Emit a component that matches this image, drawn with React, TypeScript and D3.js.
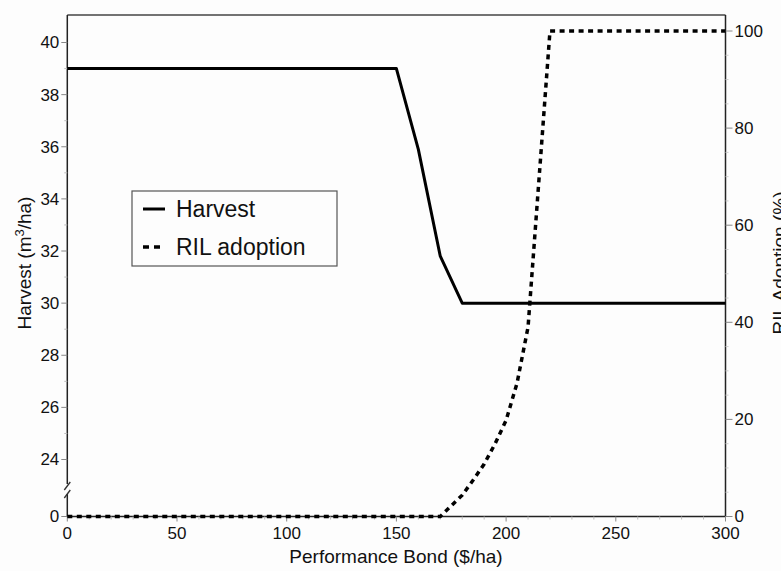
import React, { useEffect, useRef } from 'react';
import * as d3 from 'd3';

// bond levels ($/ha) used by the harvest series
const bond = [0, 10, 20, 30, 40, 50, 60, 70, 80, 90, 100, 110, 120, 130, 140, 150, 160, 170, 180, 190, 200, 210, 220, 230, 240, 250, 260, 270, 280, 290, 300];
const harvest = [39, 39, 39, 39, 39, 39, 39, 39, 39, 39, 39, 39, 39, 39, 39, 39, 35.9, 31.8, 30, 30, 30, 30, 30, 30, 30, 30, 30, 30, 30, 30, 30];

// RIL adoption is sampled more finely where it rises
const rilBond = [0, 10, 20, 30, 40, 50, 60, 70, 80, 90, 100, 110, 120, 130, 140, 150, 160, 170, 175, 180, 185, 190, 195, 200, 205, 210, 220, 230, 240, 250, 260, 270, 280, 290, 300];
const rilAdoption = [0, 0, 0, 0, 0, 0, 0, 0, 0, 0, 0, 0, 0, 0, 0, 0, 0, 0, 2.2, 4.4, 7.5, 10.8, 15, 19.8, 27.5, 39, 100, 100, 100, 100, 100, 100, 100, 100, 100];

const xTicks = [0, 50, 100, 150, 200, 250, 300];
const harvestTicks = [24, 26, 28, 30, 32, 34, 36, 38, 40];
const rilTicks = [0, 20, 40, 60, 80, 100];

const W = 781;
const H = 571;
const font = "'Liberation Sans', Arial, Helvetica, sans-serif";

const App = () => {
  const ref = useRef<SVGSVGElement>(null);

  useEffect(() => {
    const svg = d3.select(ref.current);
    svg.selectAll('*').remove();

    const left = 67.3, right = 725.5, top = 15, bottom = 516.5;

    const x = d3.scaleLinear().domain([0, 300]).range([left, right]);
    const yH = d3.scaleLinear().domain([24, 40]).range([459.5, 42.5]);
    const yR = d3.scaleLinear().domain([0, 100]).range([bottom, 31]);

    svg.append('rect').attr('width', W).attr('height', H).attr('fill', '#fdfdfd');

    // frame (top, right, bottom)
    svg.append('line').attr('x1', left).attr('x2', right).attr('y1', top).attr('y2', top)
      .attr('stroke', '#444').attr('stroke-width', 1.3);
    svg.append('line').attr('x1', right).attr('x2', right).attr('y1', top).attr('y2', bottom)
      .attr('stroke', '#222').attr('stroke-width', 1.5);
    svg.append('line').attr('x1', left).attr('x2', right).attr('y1', bottom).attr('y2', bottom)
      .attr('stroke', '#222').attr('stroke-width', 1.5);

    // left axis with break
    svg.append('line').attr('x1', left).attr('x2', left).attr('y1', top).attr('y2', 484)
      .attr('stroke', '#222').attr('stroke-width', 1.5);
    svg.append('line').attr('x1', left).attr('x2', left).attr('y1', 494).attr('y2', bottom)
      .attr('stroke', '#222').attr('stroke-width', 1.5);
    svg.append('line').attr('x1', left - 3).attr('x2', left + 3).attr('y1', 490).attr('y2', 482)
      .attr('stroke', '#333').attr('stroke-width', 1.3);
    svg.append('line').attr('x1', left - 3).attr('x2', left + 3).attr('y1', 498).attr('y2', 490)
      .attr('stroke', '#333').attr('stroke-width', 1.3);

    const tickColor = '#888';

    // left ticks
    const minorH = d3.range(25, 40, 2);
    svg.append('g').selectAll('line').data(minorH).enter().append('line')
      .attr('x1', left - 3).attr('x2', left).attr('y1', (d) => yH(d)).attr('y2', (d) => yH(d))
      .attr('stroke', '#bbb');
    svg.append('g').selectAll('line').data(harvestTicks).enter().append('line')
      .attr('x1', left - 6).attr('x2', left).attr('y1', (d) => yH(d)).attr('y2', (d) => yH(d))
      .attr('stroke', tickColor);
    svg.append('g').selectAll('text').data(harvestTicks).enter().append('text')
      .attr('x', left - 8).attr('y', (d) => yH(d)).attr('dy', '0.35em')
      .attr('text-anchor', 'end').attr('font-family', font).attr('font-size', 17).attr('fill', '#111')
      .text((d) => d);
    svg.append('line').attr('x1', left - 6).attr('x2', left).attr('y1', bottom).attr('y2', bottom)
      .attr('stroke', tickColor);
    svg.append('text').attr('x', left - 8).attr('y', bottom).attr('dy', '0.35em')
      .attr('text-anchor', 'end').attr('font-family', font).attr('font-size', 17).attr('fill', '#111')
      .text('0');

    // right ticks
    const minorR = d3.range(5, 100, 5).filter((d) => d % 20 !== 0);
    svg.append('g').selectAll('line').data(minorR).enter().append('line')
      .attr('x1', right).attr('x2', right + 3).attr('y1', (d) => yR(d)).attr('y2', (d) => yR(d))
      .attr('stroke', '#ccc');
    svg.append('g').selectAll('line').data(rilTicks).enter().append('line')
      .attr('x1', right).attr('x2', right + 7).attr('y1', (d) => yR(d)).attr('y2', (d) => yR(d))
      .attr('stroke', tickColor);
    svg.append('g').selectAll('text').data(rilTicks).enter().append('text')
      .attr('x', right + 9).attr('y', (d) => yR(d)).attr('dy', '0.35em')
      .attr('font-family', font).attr('font-size', 17).attr('fill', '#111')
      .text((d) => d);

    // bottom ticks
    const minorX = d3.range(10, 300, 10).filter((d) => d % 50 !== 0);
    svg.append('g').selectAll('line').data(minorX).enter().append('line')
      .attr('x1', (d) => x(d)).attr('x2', (d) => x(d)).attr('y1', bottom).attr('y2', bottom + 3)
      .attr('stroke', '#bbb');
    svg.append('g').selectAll('line').data(xTicks).enter().append('line')
      .attr('x1', (d) => x(d)).attr('x2', (d) => x(d)).attr('y1', bottom).attr('y2', bottom + 5)
      .attr('stroke', tickColor);
    svg.append('g').selectAll('text').data(xTicks).enter().append('text')
      .attr('x', (d) => x(d)).attr('y', 538.5)
      .attr('text-anchor', 'middle').attr('font-family', font).attr('font-size', 17).attr('fill', '#111')
      .text((d) => d);

    // axis titles
    svg.append('text').attr('x', 396).attr('y', 563)
      .attr('text-anchor', 'middle').attr('font-family', font).attr('font-size', 19).attr('fill', '#111')
      .text('Performance Bond ($/ha)');
    const lt = svg.append('text').attr('transform', 'translate(31,263) rotate(-90)')
      .attr('text-anchor', 'middle').attr('font-family', font).attr('font-size', 19).attr('fill', '#111');
    lt.append('tspan').text('Harvest (m');
    lt.append('tspan').attr('font-size', 13).attr('dy', -7).text('3');
    lt.append('tspan').attr('dy', 7).text('/ha)');
    svg.append('text').attr('transform', 'translate(786,263) rotate(-90)')
      .attr('text-anchor', 'middle').attr('font-family', font).attr('font-size', 19).attr('fill', '#111')
      .text('RIL Adoption (%)');

    // series
    const harvestLine = d3.line<number>().x((d, i) => x(bond[i])).y((d) => yH(d));
    svg.append('path').datum(harvest).attr('d', harvestLine)
      .attr('fill', 'none').attr('stroke', '#000').attr('stroke-width', 3).attr('stroke-linejoin', 'round');

    const rilLine = d3.line<number>().x((d, i) => x(rilBond[i])).y((d) => yR(d));
    svg.append('path').datum(rilAdoption).attr('d', rilLine)
      .attr('fill', 'none').attr('stroke', '#000').attr('stroke-width', 3.5).attr('stroke-dasharray', '5,4.5');

    // legend
    const lg = svg.append('g');
    lg.append('rect').attr('x', 132).attr('y', 191).attr('width', 205).attr('height', 75)
      .attr('fill', '#fdfdfd').attr('stroke', '#555').attr('stroke-width', 1.2);
    lg.append('line').attr('x1', 143).attr('x2', 165).attr('y1', 209).attr('y2', 209)
      .attr('stroke', '#000').attr('stroke-width', 3);
    lg.append('line').attr('x1', 143).attr('x2', 165).attr('y1', 247).attr('y2', 247)
      .attr('stroke', '#000').attr('stroke-width', 3.5).attr('stroke-dasharray', '6,5');
    lg.append('text').attr('x', 176).attr('y', 216.5)
      .attr('font-family', font).attr('font-size', 23).attr('fill', '#111').text('Harvest');
    lg.append('text').attr('x', 176).attr('y', 254.5)
      .attr('font-family', font).attr('font-size', 23).attr('fill', '#111').text('RIL adoption');
  }, []);

  return <svg ref={ref} width={W} height={H} style={{ position: 'absolute', left: 0, top: 0 }}></svg>;
};

export default App;
